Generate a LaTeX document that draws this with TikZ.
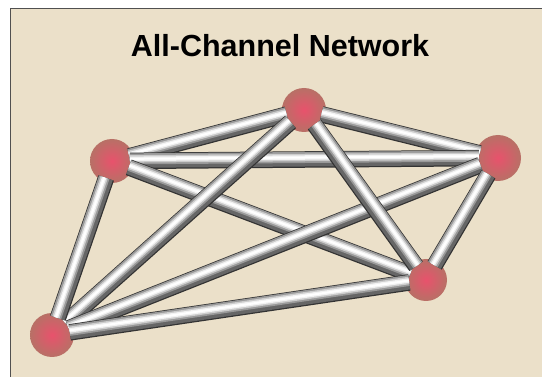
\documentclass[tikz,border=0pt]{standalone}
\usepackage{fontspec}
\setmainfont{Liberation Sans}
\definecolor{bgbeige}{RGB}{235,224,201}
\definecolor{framegray}{RGB}{80,80,80}
\definecolor{ballin}{RGB}{232,82,108}
\definecolor{ballout}{RGB}{184,112,102}
\tikzset{
  ball/.style={circle, minimum size=44pt, inner sep=0pt, outer sep=-4pt,
    inner color=ballin, outer color=ballout},
  tubebase/.style={line width=16.5pt, draw=black!80, line cap=butt,
    postaction={draw=black!60, line width=14pt}},
  tubeshine/.style={line width=11pt, draw=black!40, line cap=butt,
    postaction={draw=black!20, line width=7.5pt},
    postaction={draw=black!5, line width=4.5pt},
    postaction={draw=white, line width=2pt}},
  titletext/.style={font=\fontsize{30.5}{36}\selectfont\bfseries, anchor=base, inner sep=0pt}
}
\begin{document}
\begin{tikzpicture}[x=1pt,y=-1pt]
\useasboundingbox (0,0) rectangle (542,377);
\path[fill=bgbeige, draw=framegray, line width=1.5pt] (10.5,8.5) rectangle (560,400);
\node[titletext] (title) at (280,57) {All-Channel Network};
\node[ball] (A) at (112,161) {};
\node[ball] (B) at (304,110) {};
\node[ball, minimum size=46pt] (C) at (498,158) {};
\node[ball, minimum size=42pt] (D) at (426,280) {};
\node[ball] (E) at (52,335) {};
\foreach \u/\v in {A/B, B/C, A/C, A/D, E/B, E/C, B/D, E/A, D/C, E/D}{
  \pgfmathanglebetweenpoints{\pgfpointanchor{\u}{center}}{\pgfpointanchor{\v}{center}}
  \let\tubeang\pgfmathresult
  \draw[tubebase] (\u) -- (\v);
  \draw[tubeshine, transform canvas={shift={(\tubeang+90:2pt)}}] (\u) -- (\v);
}
\end{tikzpicture}
\end{document}
